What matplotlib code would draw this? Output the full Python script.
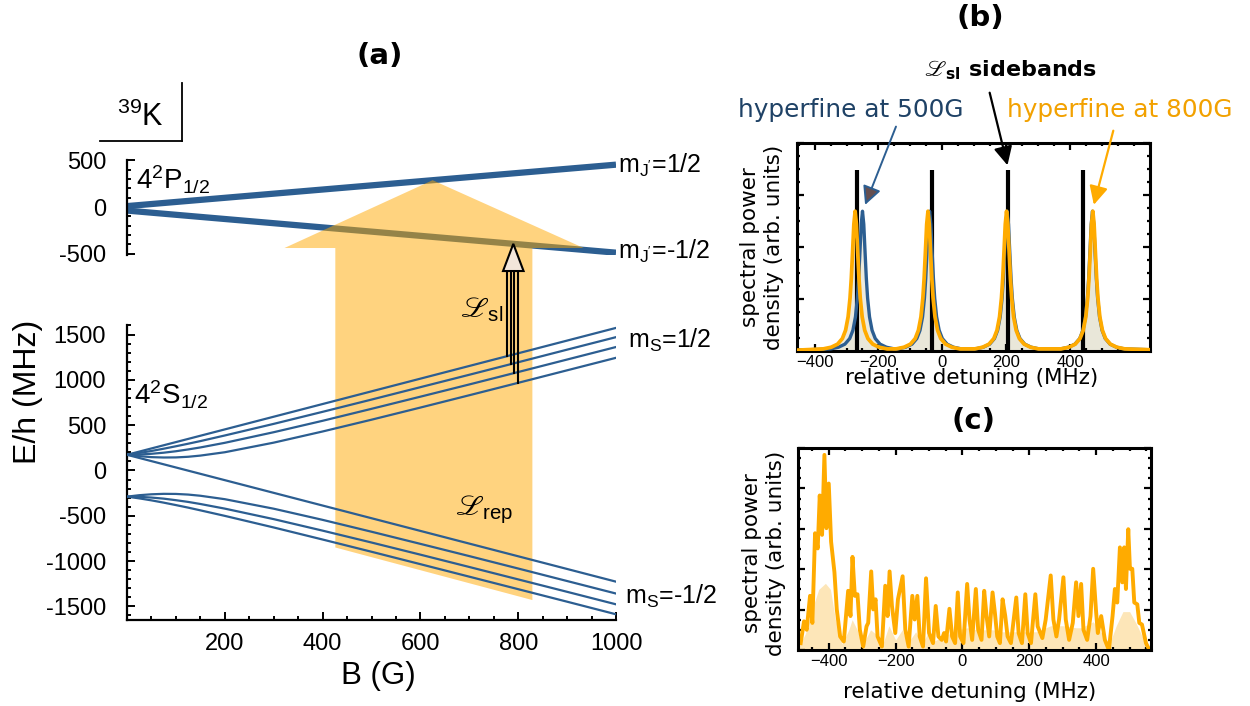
import numpy as np
import matplotlib
matplotlib.use("Agg")
import matplotlib.pyplot as plt
from matplotlib.patches import Polygon
from matplotlib.lines import Line2D
from matplotlib.ticker import MultipleLocator, FixedLocator

plt.rcParams['font.family'] = ['Liberation Sans', 'DejaVu Sans']
plt.rcParams['mathtext.fontset'] = 'custom'
plt.rcParams['mathtext.rm'] = 'Liberation Sans'
plt.rcParams['mathtext.it'] = 'Liberation Sans:italic'
plt.rcParams['mathtext.fallback'] = 'stix'

# ---- panel (a): 39K levels vs field ----
B_grid = [0, 25, 50, 75, 100, 125, 150, 200, 300, 400, 500, 600, 700, 800, 900, 1000]
s_up_m2 = [173, 208, 243, 278, 313, 348, 383, 453, 593, 733, 873, 1013, 1153, 1293, 1433, 1573]
s_up_m1 = [173, 193, 215, 240, 267, 295, 324, 386, 514, 647, 782, 919, 1056, 1194, 1333, 1471]
s_up_m0 = [173, 176, 184, 196, 212, 232, 254, 305, 422, 548, 680, 814, 949, 1086, 1224, 1362]
s_up_mm1 = [173, 158, 147, 143, 144, 151, 164, 201, 307, 430, 560, 694, 830, 967, 1105, 1243]
s_dn_mm2 = [173, 138, 103, 68, 33, -2, -37, -107, -247, -387, -527, -667, -807, -947, -1087, -1227]
s_dn_m1 = [-289, -308, -330, -355, -382, -410, -440, -501, -629, -762, -897, -1034, -1172, -1310, -1448, -1587]
s_dn_m0 = [-289, -291, -299, -311, -328, -347, -370, -421, -537, -664, -795, -929, -1065, -1202, -1339, -1477]
s_dn_mm1 = [-289, -273, -263, -258, -259, -266, -279, -317, -422, -545, -676, -810, -945, -1082, -1220, -1358]

B_p = [0, 1000]
p_up = [10, 455]
p_dn = [-38, -490]

# repumper band and sideband arrow (in G)
rep_B = [426, 829]
pump_B = 625
sl_B = [778, 785, 792, 800]

# ---- panel (b): hyperfine lines vs sidebands ----
sidebands = [-268, -32, 205, 441]
sideband_top = 0.872
peaks_500G = [-250, -40, 203, 470]
peaks_800G = [-273, -45, 201, 471]
peak_height = 0.672
peak_offsets = [-100, -75, -55, -40, -30, -22, -16, -12, -8, -4, 0, 4, 8, 12, 16, 22, 30, 40, 55, 75, 100]
peak_shape = [0.015, 0.027, 0.049, 0.089, 0.148, 0.244, 0.379, 0.52, 0.709, 0.907, 1.0,
              0.907, 0.709, 0.52, 0.379, 0.244, 0.148, 0.089, 0.049, 0.027, 0.015]

# ---- panel (c): measured spectrum ----
det_c = [-484, -474, -466, -456, -449, -441, -433, -427, -420, -413, -407, -400, -393, -383, -376,
         -366, -355, -342, -335, -329, -322, -314, -307, -297, -287, -282, -273, -267, -260, -254,
         -241, -231, -224, -218, -211, -201, -193, -179, -171, -161, -150, -143, -135, -128, -118,
         -109, -100, -88, -80, -72, -62, -55, -49, -39, -31, -22, -14, -7, 3, 14, 21, 29, 40, 47,
         57, 65, 72, 80, 90, 97, 104, 112, 120, 128, 135, 145, 161, 168, 178, 188, 195, 205, 218,
         225, 239, 249, 264, 272, 281, 289, 302, 309, 319, 330, 340, 347, 355, 362, 373, 383, 391,
         400, 405, 415, 426, 438, 449, 456, 463, 471, 478, 484, 489, 496, 501, 508, 514, 523, 529,
         537, 549, 559]
psd_c = [0.034, 0.142, 0.10, 0.268, 0.134, 0.578, 0.503, 0.765, 0.57, 0.966, 0.603, 0.824, 0.536,
         0.385, 0.201, 0.067, 0.042, 0.293, 0.168, 0.461, 0.268, 0.276, 0.10, 0.017, 0.117, 0.134,
         0.389, 0.201, 0.251, 0.067, 0.017, 0.318, 0.168, 0.389, 0.218, 0.084, 0.251, 0.365, 0.10,
         0.017, 0.268, 0.151, 0.268, 0.067, 0.017, 0.355, 0.084, 0.034, 0.218, 0.067, 0.05, 0.084,
         0.042, 0.204, 0.067, 0.034, 0.285, 0.067, 0.034, 0.327, 0.151, 0.05, 0.302, 0.10, 0.05,
         0.293, 0.168, 0.067, 0.285, 0.184, 0.067, 0.034, 0.251, 0.168, 0.067, 0.034, 0.26, 0.084,
         0.034, 0.276, 0.084, 0.034, 0.276, 0.117, 0.059, 0.151, 0.369, 0.151, 0.067, 0.151, 0.36,
         0.151, 0.05, 0.134, 0.335, 0.168, 0.327, 0.10, 0.05, 0.168, 0.402, 0.184, 0.084, 0.168,
         0.05, 0.0, 0.168, 0.302, 0.235, 0.508, 0.335, 0.508, 0.302, 0.598, 0.402, 0.402, 0.235,
         0.226, 0.134, 0.126, 0.034, 0.0]
env_det = [-492, -470, -450, -430, -410, -395, -380, -360, -340, -330, -315, -300, -275, -260, -240,
           -220, -200, -180, -165, -140, -120, -105, -90, -40, -15, 15, 40, 65, 90, 120, 160, 190,
           220, 264, 302, 340, 355, 391, 440, 460, 480, 500, 520, 540, 559]
env_psd = [0.01, 0.08, 0.2, 0.3, 0.33, 0.3, 0.15, 0.03, 0.1, 0.15, 0.1, 0.02, 0.1, 0.08, 0.02,
           0.12, 0.05, 0.1, 0.03, 0.09, 0.03, 0.08, 0.04, 0.08, 0.1, 0.11, 0.1, 0.1, 0.1, 0.09,
           0.09, 0.09, 0.09, 0.12, 0.12, 0.11, 0.11, 0.14, 0.03, 0.12, 0.19, 0.19, 0.13, 0.06, 0.01]

blue = '#2c5e91'
orange = '#ffab00'
W, H = 1250, 706


def fx(x):
    return x / W


def fy(y):
    return 1 - y / H


fig = plt.figure(figsize=(12.5, 7.06), dpi=100)

ax_up = fig.add_axes([fx(127), fy(255), fx(616) - fx(127), fy(160) - fy(255)])
ax_lo = fig.add_axes([fx(127), fy(620), fx(616) - fx(127), fy(325) - fy(620)])
ax_up.set_zorder(1)
ax_lo.set_zorder(2)
for ax in (ax_up, ax_lo):
    ax.set_facecolor('none')
    ax.set_xlim(0, 1000)
    for s in ('top', 'right'):
        ax.spines[s].set_visible(False)
    ax.spines['left'].set_linewidth(1.6)
    ax.tick_params(which='both', direction='in', width=1.4, labelsize=17)
    ax.tick_params(which='major', length=6)
    ax.tick_params(which='minor', length=3)
    ax.tick_params(axis='y', pad=15)

ax_up.set_ylim(-515, 505)
ax_up.spines['bottom'].set_visible(False)
ax_up.set_xticks([])
ax_up.yaxis.set_major_locator(FixedLocator([-500, 0, 500]))
ax_up.set_yticklabels(['-500', '0', '500'])
ax_up.yaxis.set_minor_locator(MultipleLocator(100))
ax_up.plot(B_p, p_up, color=blue, lw=4.5, solid_capstyle='butt')
ax_up.plot(B_p, p_dn, color=blue, lw=4.5, solid_capstyle='butt')

ax_lo.set_ylim(-1650, 1605)
ax_lo.spines['bottom'].set_linewidth(1.6)
ax_lo.yaxis.set_major_locator(FixedLocator([-1500, -1000, -500, 0, 500, 1000, 1500]))
ax_lo.set_yticklabels(['-1500', '-1000', '-500', '0', '500', '1000', '1500'])
ax_lo.yaxis.set_minor_locator(MultipleLocator(100))
ax_lo.xaxis.set_major_locator(FixedLocator([200, 400, 600, 800, 1000]))
ax_lo.set_xticklabels(['200', '400', '600', '800', '1000'])
ax_lo.xaxis.set_minor_locator(MultipleLocator(50))
ax_lo.tick_params(axis='x', pad=9)
for e in (s_up_m2, s_up_m1, s_up_m0, s_up_mm1, s_dn_mm2, s_dn_m1, s_dn_m0, s_dn_mm1):
    ax_lo.plot(B_grid, e, color=blue, lw=1.6, zorder=3)


def to_lo(b, e):
    # point of the upper axes expressed in lower axes data units
    return ax_lo.transData.inverted().transform(ax_up.transData.transform((b, e)))


# orange pump arrow spanning both level groups
base_e = to_lo(0, -440)[1]
apex = to_lo(pump_B, np.interp(pump_B, B_p, p_up))
arrow_pts = [(rep_B[0], -850), (rep_B[1], -1430), (rep_B[1], base_e), (934, base_e),
             (apex[0], apex[1]), (322, base_e), (rep_B[0], base_e)]
ax_lo.add_patch(Polygon(arrow_pts, closed=True, facecolor='#ffa800', alpha=0.5,
                        edgecolor='none', clip_on=False, zorder=1))

# sideband arrow
sl_tip = to_lo(790, np.interp(790, B_p, p_dn))
sl_base = sl_tip[1] - 300
for b, e in zip(sl_B, (s_up_m2, s_up_m1, s_up_m0, s_up_mm1)):
    ax_lo.plot([b, b], [np.interp(b, B_grid, e), sl_base], color='black', lw=1.5,
               clip_on=False, zorder=5)
ax_lo.add_patch(Polygon([(sl_tip[0] - 21, sl_base), (sl_tip[0] + 21, sl_base), (sl_tip[0], sl_tip[1])],
                        closed=True, facecolor='#f2e6da', edgecolor='black', lw=1.5,
                        clip_on=False, zorder=6))

# box around isotope label
fig.add_artist(Line2D([fx(100), fx(182)], [fy(141), fy(141)], color='black', lw=1.3))
fig.add_artist(Line2D([fx(182), fx(182)], [fy(83), fy(141)], color='black', lw=1.3))
fig.text(fx(140), fy(117), r'$^{\mathregular{39}}$K', fontsize=22, ha='center', va='center')
fig.text(fx(136), fy(180), r'4$^{\mathregular{2}}$P$_{\mathregular{1/2}}$', fontsize=20, ha='left', va='center')
fig.text(fx(134), fy(395), r'4$^{\mathregular{2}}$S$_{\mathregular{1/2}}$', fontsize=20, ha='left', va='center')
fig.text(fx(618), fy(165), r"m$_{\mathregular{J'}}$=1/2", fontsize=18, ha='left', va='center')
fig.text(fx(618), fy(251), r"m$_{\mathregular{J'}}$=-1/2", fontsize=18, ha='left', va='center')
fig.text(fx(628), fy(340), r'm$_{\mathregular{S}}$=1/2', fontsize=18, ha='left', va='center')
fig.text(fx(625), fy(596), r'm$_{\mathregular{S}}$=-1/2', fontsize=18, ha='left', va='center')
fig.text(fx(503), fy(310), r'$ℒ_{\mathregular{sl}}$', fontsize=21, ha='right', va='center', zorder=10)
fig.text(fx(484), fy(510), r'$ℒ_{\mathregular{rep}}$', fontsize=21, ha='center', va='center', zorder=10)
fig.text(fx(28), fy(392), 'E/h (MHz)', fontsize=23, rotation=90, ha='center', va='center')
fig.text(fx(378), fy(676), 'B (G)', fontsize=22.5, ha='center', va='center')

for lab, (x, y) in (('(a)', (380, 56)), ('(b)', (980, 18)), ('(c)', (973, 421))):
    fig.text(fx(x), fy(y), lab, fontsize=21, fontweight='bold', family='DejaVu Sans',
             ha='center', va='center')


def style_spec(ax, xlim, ymajor, yminor):
    ax.set_xlim(*xlim)
    ax.set_ylim(0, 1)
    for s in ax.spines.values():
        s.set_linewidth(2.2)
    ax.xaxis.set_major_locator(FixedLocator([-400, -200, 0, 200, 400]))
    ax.xaxis.set_minor_locator(MultipleLocator(50))
    ax.yaxis.set_major_locator(MultipleLocator(ymajor))
    ax.yaxis.set_minor_locator(MultipleLocator(yminor))
    ax.tick_params(which='both', direction='in', top=True, right=True, width=1.6,
                   labelsize=12, labelleft=False, pad=3)
    ax.tick_params(which='major', length=5)
    ax.tick_params(which='minor', length=2.5)


# ---- panel (b) ----
ax_b = fig.add_axes([fx(797), fy(351), fx(1150) - fx(797), fy(143) - fy(351)])
style_spec(ax_b, (-455, 650), 0.25, 0.0625)
ax_b.vlines(sidebands, 0, sideband_top, color='black', lw=3, zorder=2)
for centers, col, lw, z in ((peaks_500G, blue, 2.4, 3), (peaks_800G, orange, 2.7, 4)):
    xs = np.concatenate([[-455]] + [np.array(peak_offsets) + c for c in centers] + [[650]])
    ys = np.concatenate([[0.004]] + [peak_height * np.array(peak_shape) for c in centers] + [[0.006]])
    ax_b.fill_between(xs, 0, ys, color='#e9e7d9', alpha=0.85, lw=0, zorder=1)
    ax_b.plot(xs, ys, color=col, lw=lw, zorder=z)

ax_b.annotate('', xy=(206, 0.88), xytext=(fx(989), fy(90)), textcoords='figure fraction',
              arrowprops=dict(arrowstyle='-|>', color='black', lw=1.6, mutation_scale=28),
              annotation_clip=False)
ax_b.annotate('', xy=(-245, 0.69), xytext=(fx(897), fy(124)), textcoords='figure fraction',
              arrowprops=dict(arrowstyle='-|>', fc='#654f50', ec=blue, lw=1.4, mutation_scale=28),
              annotation_clip=False)
ax_b.annotate('', xy=(472, 0.69), xytext=(fx(1114), fy(128)), textcoords='figure fraction',
              arrowprops=dict(arrowstyle='-|>', color=orange, lw=1.6, mutation_scale=28),
              annotation_clip=False)
fig.text(fx(1011), fy(70), r'$ℒ_{\mathregular{sl}}$ sidebands', fontsize=16, fontweight='bold',
         family=['DejaVu Sans'], ha='center', va='center')
fig.text(fx(851), fy(110), 'hyperfine at 500G', fontsize=17.8, color='#1f4266',
         family=['DejaVu Sans'], ha='center', va='center')
fig.text(fx(1120), fy(110), 'hyperfine at 800G', fontsize=17.8, color='#f2a100',
         family=['DejaVu Sans'], ha='center', va='center')
fig.text(fx(762), fy(247), 'spectral power\ndensity (arb. units)', fontsize=15.5, rotation=90,
         family=['DejaVu Sans'], ha='center', va='center', linespacing=1.25)
fig.text(fx(972), fy(378), 'relative detuning (MHz)', fontsize=15.5,
         family=['DejaVu Sans'], ha='center', va='center')

# ---- panel (c) ----
ax_c = fig.add_axes([fx(798), fy(650), fx(1151) - fx(798), fy(448) - fy(650)])
style_spec(ax_c, (-492, 564), 0.2, 0.05)
ax_c.fill_between(env_det, 0, env_psd, color='#fde6b8', lw=0, zorder=1)
ax_c.plot(det_c, psd_c, color=orange, lw=2.8, zorder=2)
fig.text(fx(764), fy(553), 'spectral power\ndensity (arb. units)', fontsize=15.5, rotation=90,
         family=['DejaVu Sans'], ha='center', va='center', linespacing=1.25)
fig.text(fx(970), fy(692), 'relative detuning (MHz)', fontsize=15.5,
         family=['DejaVu Sans'], ha='center', va='center')

fig.savefig('out.png', dpi=100)
